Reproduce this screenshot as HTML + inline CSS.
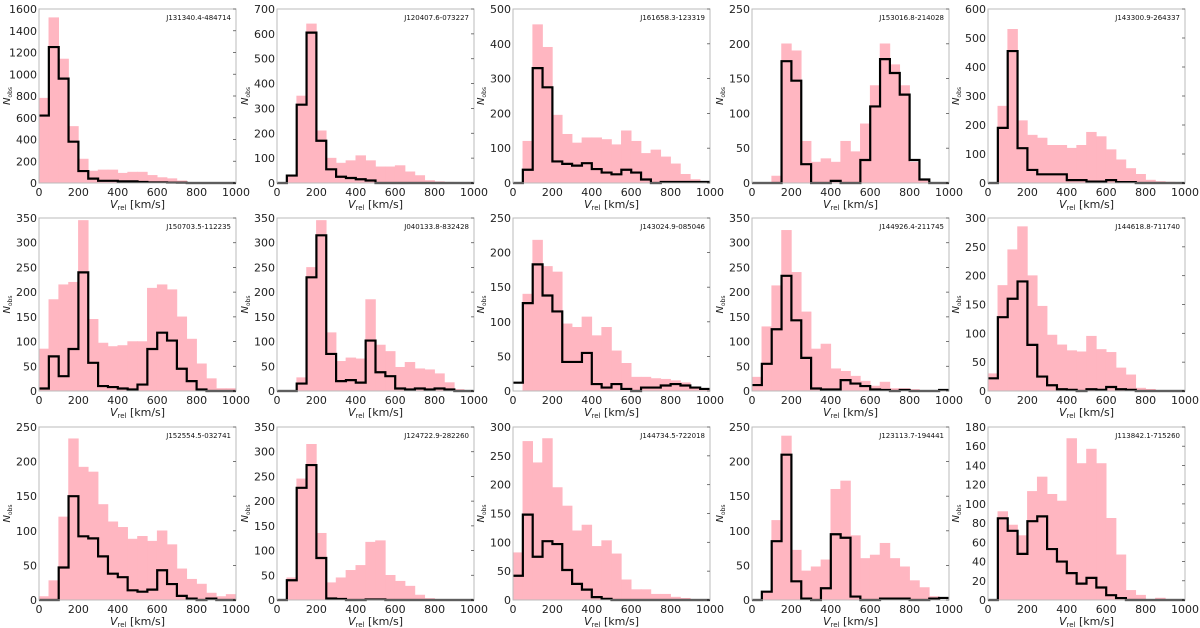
<!DOCTYPE html>
<html><head><meta charset="utf-8"><style>
html,body{margin:0;padding:0;background:#fff;}
svg{display:block;font-family:"DejaVu Sans","Liberation Sans",sans-serif;}
</style></head><body>
<svg id="fig" width="1200" height="628" viewBox="0 0 1200 628" xmlns="http://www.w3.org/2000/svg"></svg>
<script>
const binEdges = [0,50,100,150,200,250,300,350,400,450,500,550,600,650,700,750,800,850,900,950,1000];
const xTicks = [0,200,400,600,800,1000];
const panelNames = ["J131340.4-484714","J120407.6-073227","J161658.3-123319","J153016.8-214028","J143300.9-264337",
"J150703.5-112235","J040133.8-832428","J143024.9-085046","J144926.4-211745","J144618.8-711740",
"J152554.5-032741","J124722.9-282260","J144734.5-722018","J123113.7-194441","J113842.1-715260"];
const yMax = [1600,700,500,250,600, 350,350,250,350,300, 250,350,300,250,180];
const yStep = [200,100,100,50,100, 50,50,50,50,50, 50,50,50,50,20];
const pinkCounts = [
[780,1520,1140,520,220,110,120,120,90,100,100,70,50,40,20,5,0,0,0,0],
[0,30,350,640,210,100,80,90,110,90,65,65,70,45,30,10,5,3,0,0],
[0,120,455,390,195,140,115,130,130,125,110,150,120,85,95,75,55,25,10,5],
[0,0,10,200,190,60,30,35,30,60,45,85,140,200,170,140,30,5,0,0],
[0,265,530,215,165,155,130,130,120,130,175,160,115,80,50,30,10,5,3,0],
[85,185,215,220,345,145,97,90,92,100,100,208,215,205,150,105,55,25,5,5],
[0,0,27,250,345,118,60,67,65,185,93,80,48,58,45,43,35,17,3,0],
[0,140,218,180,172,97,92,107,80,92,58,40,20,20,18,17,15,12,5,3],
[28,130,213,325,240,160,85,95,45,40,30,20,10,18,5,5,3,0,0,0],
[30,183,245,285,200,147,97,80,70,68,95,72,67,40,28,5,3,0,0,0],
[5,28,120,233,192,185,138,113,105,88,92,85,100,80,45,30,23,10,5,8],
[0,45,245,315,135,35,45,60,70,117,120,50,38,28,10,3,0,0,0,0],
[82,275,238,280,195,163,120,130,93,103,80,35,18,18,10,10,5,3,0,0],
[0,12,115,237,72,42,48,58,160,172,93,60,65,82,60,48,28,18,5,0],
[0,92,78,67,113,128,110,103,168,142,157,142,85,47,10,5,0,2,0,0]];
const blackCounts = [
[620,1250,960,380,110,40,20,20,15,15,10,5,5,3,2,0,0,0,0,0],
[0,30,315,605,170,55,25,20,15,10,0,0,0,0,0,0,0,0,0,0],
[0,38,330,275,62,55,50,57,40,30,25,38,30,10,0,3,3,3,3,3],
[0,0,0,175,147,27,0,0,3,0,0,33,110,178,158,127,33,5,0,0],
[0,190,455,120,45,30,30,30,10,10,5,5,10,3,3,0,0,0,0,0],
[5,70,30,85,240,57,10,8,5,3,13,85,118,102,45,20,3,0,0,0],
[0,0,15,230,315,75,20,22,17,102,38,30,5,3,5,3,5,3,0,0],
[12,127,183,138,115,42,42,55,10,5,10,3,0,5,5,8,10,8,5,3],
[12,55,125,233,143,67,5,3,3,22,15,10,3,2,0,2,0,0,0,2],
[22,128,160,190,80,25,10,3,2,0,3,2,7,3,2,0,0,0,0,0],
[0,0,47,150,92,89,63,38,33,14,12,15,43,23,6,2,0,2,0,0],
[0,40,227,273,85,3,2,0,0,1,1,0,0,0,0,0,0,0,0,0],
[42,148,75,102,97,52,28,18,5,2,0,0,0,0,0,0,0,0,0,0],
[0,12,85,210,27,2,0,17,95,90,5,0,0,2,2,2,0,0,2,3],
[0,85,72,48,82,87,53,40,28,17,23,13,5,2,0,0,0,0,0,0]];

const NS="http://www.w3.org/2000/svg";
const svg=document.getElementById('fig');
const colX=[39,277,513,752,988], rowY=[[9,183],[218,391],[427,600]], PW=197;
function mk(tag,attrs,parent){const e=document.createElementNS(NS,tag);for(const k in attrs)e.setAttribute(k,attrs[k]);parent.appendChild(e);return e;}

for(let p=0;p<15;p++){
  const c=p%5,r=Math.floor(p/5);
  const x0=colX[c],x1=x0+PW,y0=rowY[r][0],y1=rowY[r][1];
  const sx=v=>x0+(v/1000)*(x1-x0);
  const sy=v=>y1-(v/yMax[p])*(y1-y0);
  const g=mk('g',{},svg);
  
  
  for(let i=0;i<20;i++){
    const v=pinkCounts[p][i]; if(v<=0) continue;
    const b=mk('rect',{x:sx(binEdges[i]),y:sy(v),width:sx(binEdges[i+1])-sx(binEdges[i]),height:y1-sy(v),fill:'#ffb6c1',stroke:'#ffb6c1','stroke-width':0.6},g);
    
    
  }
  let d='M'+sx(0)+','+sy(blackCounts[p][0]);
  for(let i=0;i<20;i++){
    d+=' L'+sx(binEdges[i])+','+sy(blackCounts[p][i])+' L'+sx(binEdges[i+1])+','+sy(blackCounts[p][i]);
  }
  const st=mk('path',{d:d,fill:'none',stroke:'#000','stroke-width':2.2},g);
  
  
  const fr=mk('rect',{x:x0,y:y0,width:x1-x0,height:y1-y0,fill:'none',stroke:'#bbb','stroke-width':1},g);
  
  
  for(const t of xTicks){
    const tl=mk('text',{x:sx(t),y:y1+13,'font-size':11,'text-anchor':'middle',fill:'#222'},g);
    tl.textContent=t;
    
    
  }
  for(let v=0;v<=yMax[p];v+=yStep[p]){
    const tl=mk('text',{x:x0-2,y:sy(v)+4,'font-size':11,'text-anchor':'end',fill:'#222'},g);
    tl.textContent=v;
    
    
    mk('line',{x1:x1-3,x2:x1,y1:sy(v),y2:sy(v),stroke:'#555','stroke-width':0.8},g);
  }
  const ti=mk('text',{x:x1-5,y:y0+11,'font-size':7,'text-anchor':'end',fill:'#111'},g);
  ti.textContent=panelNames[p];
  
  
  const xl=mk('text',{x:(x0+x1)/2,y:y1+25,'font-size':11,'text-anchor':'middle',fill:'#222'},g);
  xl.innerHTML='<tspan font-style="italic">V</tspan><tspan font-size="7" dy="2">rel</tspan><tspan dy="-2"> [km/s]</tspan>';
  
  
  const yc=(y0+y1)/2, ylx=x0-29;
  const yl=mk('text',{x:ylx,y:yc,'font-size':10,'text-anchor':'middle',fill:'#222',transform:'rotate(-90 '+ylx+' '+yc+')'},g);
  yl.innerHTML='<tspan font-style="italic">N</tspan><tspan font-size="6" dy="2">obs</tspan>';
  
  
}
</script>
</body></html>
